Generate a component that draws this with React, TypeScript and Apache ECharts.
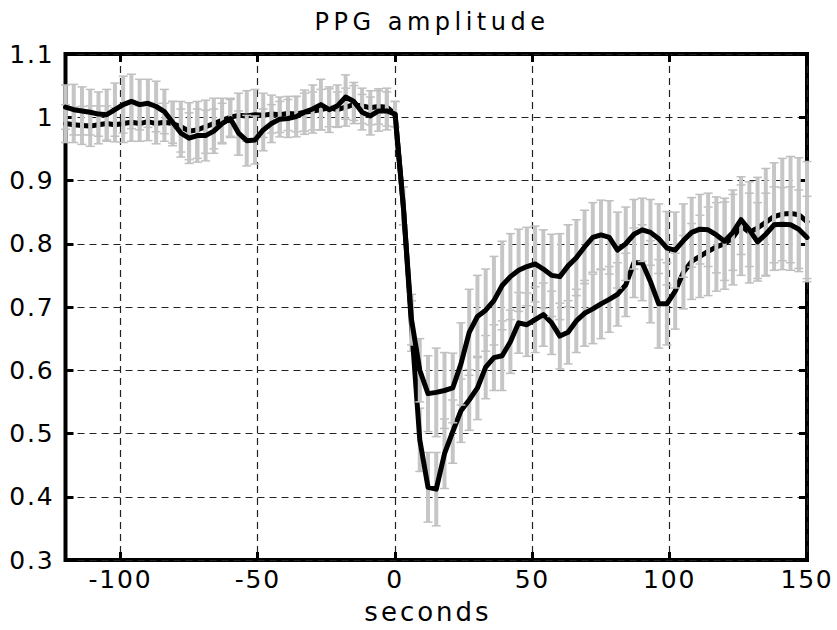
import React, { useEffect, useRef } from "react";
import * as echarts from "echarts";

const titleText = "PPG amplitude";
const xAxisName = "seconds";
const xTicks = [-100, -50, 0, 50, 100, 150];

const seconds = [
  -120, -117, -114, -111, -108, -105, -102, -99, -96, -93,
  -90, -87, -84, -81, -78, -75, -72, -69, -66, -63,
  -60, -57, -54, -51, -48, -45, -42, -39, -36, -33,
  -30, -27, -24, -21, -18, -15, -12, -9, -6, -3,
  0,
  3, 6, 9, 12, 15, 18, 21, 24, 27, 30,
  33, 36, 39, 42, 45, 48, 51, 54, 57, 60,
  63, 66, 69, 72, 75, 78, 81, 84, 87, 90,
  93, 96, 99, 102, 105, 108, 111, 114, 117, 120,
  123, 126, 129, 132, 135, 138, 141, 144, 147, 150,
];

// upper (recovering faster) curve
const meanA = [
  1.016, 1.012, 1.01, 1.008, 1.005, 1.004, 1.012, 1.02, 1.025, 1.02,
  1.022, 1.017, 1.009, 0.992, 0.975, 0.967, 0.971, 0.971, 0.978, 0.99,
  0.998, 0.975, 0.963, 0.964, 0.98, 0.99, 0.997, 0.998, 1.001, 1.008,
  1.013, 1.02, 1.012, 1.018, 1.032, 1.025, 1.008, 1.002, 1.01, 1.01,
  1.005,
  0.86, 0.68, 0.6, 0.563, 0.565, 0.568, 0.572, 0.61, 0.66, 0.685,
  0.695, 0.71, 0.734, 0.748, 0.758, 0.764, 0.768, 0.76, 0.75, 0.748,
  0.765, 0.778, 0.795, 0.81, 0.814, 0.81, 0.79, 0.8, 0.815, 0.822,
  0.818, 0.808, 0.793, 0.79, 0.805, 0.818, 0.823, 0.822, 0.814, 0.804,
  0.818, 0.838, 0.822, 0.803, 0.815, 0.83, 0.831, 0.83, 0.823, 0.81,
];
const errA = [
  0.035, 0.04, 0.038, 0.036, 0.035, 0.04, 0.042, 0.045, 0.043, 0.04,
  0.038, 0.04, 0.035, 0.033, 0.038, 0.04, 0.042, 0.04, 0.035, 0.032,
  0.03, 0.035, 0.04, 0.038, 0.033, 0.03, 0.028, 0.03, 0.032, 0.035,
  0.038, 0.04, 0.036, 0.033, 0.035, 0.03, 0.028, 0.03, 0.032, 0.03,
  0.02,
  0.03, 0.04, 0.05, 0.06, 0.07, 0.06, 0.055, 0.065, 0.068, 0.065,
  0.065, 0.07, 0.07, 0.068, 0.065, 0.062, 0.06, 0.062, 0.065, 0.068,
  0.065, 0.06, 0.058, 0.055, 0.055, 0.058, 0.06, 0.058, 0.055, 0.05,
  0.052, 0.055, 0.058, 0.06, 0.058, 0.055, 0.055, 0.058, 0.06, 0.062,
  0.06, 0.055, 0.058, 0.062, 0.065, 0.06, 0.058, 0.06, 0.062, 0.065,
];

// lower (deeper dip) curve
const meanB = [
  0.99, 0.988, 0.987, 0.986, 0.988, 0.99, 0.988, 0.99, 0.992, 0.99,
  0.993, 0.99, 0.992, 0.99, 0.985, 0.978, 0.98, 0.985, 0.99, 0.995,
  1.0, 1.003, 1.002, 1.004, 1.003, 1.005, 1.004, 1.006, 1.005, 1.008,
  1.01, 1.012, 1.015, 1.012, 1.016, 1.02, 1.018, 1.015, 1.017, 1.016,
  1.005,
  0.86, 0.67, 0.49, 0.415, 0.412, 0.468, 0.503, 0.536, 0.553, 0.572,
  0.605, 0.62, 0.623, 0.645, 0.675, 0.672, 0.68, 0.688, 0.675, 0.654,
  0.66, 0.678, 0.69, 0.697, 0.705, 0.712, 0.72, 0.735, 0.77, 0.77,
  0.74, 0.705, 0.705, 0.725, 0.755, 0.772, 0.78, 0.788, 0.795, 0.8,
  0.81, 0.828, 0.818, 0.825, 0.834, 0.843, 0.847, 0.848, 0.846, 0.835,
];
const errB = [
  0.03, 0.028, 0.03, 0.032, 0.03, 0.028, 0.027, 0.03, 0.03, 0.028,
  0.03, 0.032, 0.03, 0.035, 0.04, 0.045, 0.045, 0.042, 0.04, 0.035,
  0.03, 0.035, 0.04, 0.04, 0.035, 0.03, 0.028, 0.027, 0.028, 0.03,
  0.03, 0.032, 0.03, 0.028, 0.03, 0.03, 0.028, 0.027, 0.028, 0.03,
  0.02,
  0.03, 0.04, 0.05, 0.055, 0.058, 0.055, 0.05, 0.05, 0.048, 0.05,
  0.05, 0.052, 0.055, 0.05, 0.048, 0.05, 0.052, 0.05, 0.05, 0.052,
  0.05, 0.05, 0.052, 0.055, 0.055, 0.052, 0.05, 0.05, 0.055, 0.06,
  0.065, 0.07, 0.065, 0.06, 0.058, 0.06, 0.065, 0.07, 0.07, 0.072,
  0.075, 0.078, 0.08, 0.08, 0.085, 0.085, 0.088, 0.09, 0.09, 0.095,
];

const FONT = "DejaVu Sans";
const css = `
.ppg svg text { letter-spacing: 1.8px; }
.ppg svg text[style*="24px"] { letter-spacing: 4.5px; }
.ppg svg text[style*="26px"] { letter-spacing: 3px; }
`;

export default function App() {
  const ref = useRef<HTMLDivElement>(null);

  useEffect(() => {
    if (!ref.current) return;
    const chart = echarts.init(ref.current, null, { renderer: "svg" });

    const bandData = (mean: number[], err: number[]) =>
      seconds.map((s, i) => [s, mean[i] - err[i], mean[i] + err[i]]);
    const lineData = (mean: number[]) => seconds.map((s, i) => [s, mean[i]]);

    const renderBar = (params: any, api: any) => {
      const x = api.value(0);
      const lo = api.coord([x, api.value(1)]);
      const hi = api.coord([x, api.value(2)]);
      const w = 4.5;
      const style = { stroke: "#c6c6c6", lineWidth: 4 };
      const cap = { stroke: "#c0c0c0", lineWidth: 1.5 };
      return {
        type: "group",
        children: [
          { type: "line", shape: { x1: lo[0], y1: lo[1], x2: hi[0], y2: hi[1] }, style },
          { type: "line", shape: { x1: lo[0] - w, y1: lo[1], x2: lo[0] + w, y2: lo[1] }, style: cap },
          { type: "line", shape: { x1: hi[0] - w, y1: hi[1], x2: hi[0] + w, y2: hi[1] }, style: cap },
        ],
      };
    };

    const tickStyle = { color: "#000", width: 3 };
    const splitStyle = { color: "#222", width: 1.2, type: [7, 5] as any };

    chart.setOption({
      animation: false,
      backgroundColor: "#fff",
      grid: {
        left: 65.5,
        right: 30,
        top: 54,
        bottom: 70,
        show: true,
        borderColor: "#000",
        borderWidth: 4,
        backgroundColor: "transparent",
      },
      graphic: [
        {
          type: "text",
          x: 432,
          y: 22,
          style: {
            text: titleText,
            fontSize: 24,
            fontFamily: FONT,
            fill: "#000",
            textAlign: "center",
            textVerticalAlign: "middle",
          },
        },
        {
          type: "text",
          x: 428,
          y: 612,
          style: {
            text: xAxisName,
            fontSize: 26,
            fontFamily: FONT,
            fill: "#000",
            textAlign: "center",
            textVerticalAlign: "middle",
          },
        },
      ],
      xAxis: [
        {
          type: "value",
          min: -120,
          max: 150,
          position: "bottom",
          axisLine: { show: false, onZero: false },
          axisTick: { show: true, inside: true, length: 8, lineStyle: tickStyle, customValues: xTicks },
          axisLabel: {
            customValues: xTicks,
            fontFamily: FONT,
            fontSize: 25,
            color: "#000",
            margin: 7,
          },
          splitLine: { show: true, lineStyle: splitStyle },
        },
        {
          type: "value",
          min: -120,
          max: 150,
          position: "top",
          axisLine: { show: false, onZero: false },
          axisTick: { show: true, inside: true, length: 8, lineStyle: tickStyle, customValues: xTicks },
          axisLabel: { show: false, customValues: xTicks },
          splitLine: { show: false },
        },
      ],
      yAxis: [
        {
          type: "value",
          min: 0.3,
          max: 1.1,
          interval: 0.1,
          position: "left",
          axisLine: { show: false, onZero: false },
          axisTick: { show: true, inside: true, length: 8, lineStyle: tickStyle },
          axisLabel: {
            fontFamily: FONT,
            fontSize: 25,
            color: "#000",
            margin: 11,
            formatter: (v: number) => String(Math.round(v * 10) / 10),
          },
          splitLine: { show: true, lineStyle: splitStyle },
        },
        {
          type: "value",
          min: 0.3,
          max: 1.1,
          interval: 0.1,
          position: "right",
          axisLine: { show: false, onZero: false },
          axisTick: { show: true, inside: true, length: 8, lineStyle: tickStyle },
          axisLabel: { show: false },
          splitLine: { show: false },
        },
      ],
      series: [
        {
          type: "custom",
          name: "errB",
          z: 1,
          renderItem: renderBar,
          data: bandData(meanB, errB),
          silent: true,
        },
        {
          type: "line",
          name: "B",
          z: 2,
          data: lineData(meanB),
          showSymbol: false,
          symbol: "none",
          lineStyle: { color: "#000", width: 5, join: "round", cap: "round" },
          silent: true,
        },
        {
          type: "custom",
          name: "errA",
          z: 3,
          renderItem: renderBar,
          data: bandData(meanA, errA),
          silent: true,
        },
        {
          type: "line",
          name: "A",
          z: 4,
          data: lineData(meanA),
          showSymbol: false,
          symbol: "none",
          lineStyle: { color: "#000", width: 5, join: "round", cap: "round" },
          silent: true,
        },
      ],
    });

    return () => chart.dispose();
  }, []);

  return (
    <div className="ppg" style={{ position: "absolute", left: 0, top: 0, width: 837, height: 630, background: "#fff" }}>
      <style>{css}</style>
      <div ref={ref} style={{ width: 837, height: 630 }} />
    </div>
  );
}
